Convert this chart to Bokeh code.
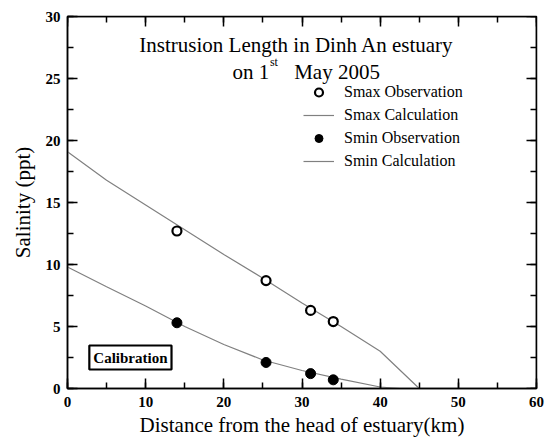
import math
from bokeh.plotting import figure
from bokeh.models import (LinearAxis, SingleIntervalTicker, Label, Legend, LegendItem,
                          Range1d, CustomLabelingPolicy)
from bokeh.embed import file_html
from bokeh.resources import INLINE

# ---- data ----
smax_obs_x = [14.0, 25.4, 31.1, 34.0]
smax_obs_y = [12.7, 8.7, 6.3, 5.4]
smin_obs_x = [14.0, 25.4, 31.1, 34.0]
smin_obs_y = [5.3, 2.1, 1.2, 0.7]
smax_calc_x = [0, 5, 10, 15, 20, 25, 30, 35, 40, 45]
smax_calc_y = [19.1, 16.8, 14.8, 12.8, 10.8, 8.9, 6.9, 5.0, 3.0, 0.0]
smin_calc_x = [0, 5, 10, 15, 20, 25, 30, 35, 40, 42.5]
smin_calc_y = [9.8, 8.2, 6.65, 5.0, 3.55, 2.3, 1.45, 0.75, 0.12, 0.0]

title_line1 = "Instrusion Length in Dinh An estuary"
title_line2a = "on 1"
title_sup = "st"
title_line2b = "May 2005"
x_label = "Distance from the head of estuary(km)"
y_label = "Salinity (ppt)"
box_label = "Calibration"
legend_labels = ["Smax Observation", "Smax Calculation", "Smin Observation", "Smin Calculation"]

SERIF = "Liberation Serif"

p = figure(width=548, height=439, output_backend="svg", toolbar_location=None,
           x_range=Range1d(0, 60), y_range=Range1d(0, 30),
           min_border_left=67, min_border_right=12, min_border_top=16, min_border_bottom=51,
           x_axis_location=None, y_axis_location=None)
p.grid.visible = False
p.outline_line_color = "black"
p.outline_line_width = 1.5
p.background_fill_color = "white"
p.border_fill_color = "white"

no_labels = CustomLabelingPolicy(code="""
    for (let i = 0; i < indices.size; i++) { indices.unset(i) }
    return indices
""")


def make_axis(interval, show_labels, label=None):
    ax = LinearAxis(ticker=SingleIntervalTicker(interval=interval, num_minor_ticks=2))
    ax.major_tick_in = 10
    ax.major_tick_out = 0
    ax.minor_tick_in = 6
    ax.minor_tick_out = 0
    ax.major_tick_line_color = "black"
    ax.major_tick_line_width = 1.5
    ax.minor_tick_line_color = "black"
    ax.minor_tick_line_width = 1.5
    ax.axis_line_color = "black"
    ax.axis_line_width = 1.5
    ax.major_label_text_font = SERIF
    ax.major_label_text_font_style = "bold"
    ax.major_label_text_font_size = "15px"
    ax.major_label_text_color = "black"
    if not show_labels:
        ax.major_label_policy = no_labels
        ax.major_label_standoff = 0
    if label:
        ax.axis_label = label
        ax.axis_label_text_font = SERIF
        ax.axis_label_text_font_style = "normal"
        ax.axis_label_text_font_size = "21px"
        ax.axis_label_text_color = "black"
    return ax


xb = make_axis(10, True, x_label)
xb.major_label_standoff = 8
xb.axis_label_standoff = 3
p.add_layout(xb, "below")
xt = make_axis(10, False)
xt.fixed_location = 30
p.add_layout(xt, "above")
yl = make_axis(5, True, y_label)
yl.major_label_standoff = 7
yl.axis_label_standoff = 8
p.add_layout(yl, "left")
yr = make_axis(5, False)
yr.fixed_location = 60
p.add_layout(yr, "right")

# ---- data marks ----
r_smax_calc = p.line(smax_calc_x, smax_calc_y, line_color="#808080", line_width=1.2)
r_smin_calc = p.line(smin_calc_x, smin_calc_y, line_color="#808080", line_width=1.2)
r_smax_obs = p.scatter(smax_obs_x, smax_obs_y, marker="circle", size=9,
                       fill_color="white", line_color="black", line_width=2.2)
r_smin_obs = p.scatter(smin_obs_x, smin_obs_y, marker="circle", size=10,
                       fill_color="black", line_color="black", line_width=1)

legend = Legend(items=[
    LegendItem(label=legend_labels[0], renderers=[r_smax_obs]),
    LegendItem(label=legend_labels[1], renderers=[r_smax_calc]),
    LegendItem(label=legend_labels[2], renderers=[r_smin_obs]),
    LegendItem(label=legend_labels[3], renderers=[r_smin_calc]),
], location=(236, 217))
legend.border_line_color = None
legend.background_fill_alpha = 0
legend.padding = 0
legend.margin = 0
legend.spacing = 3
legend.glyph_width = 31
legend.glyph_height = 20
legend.label_height = 20
legend.label_standoff = 10
legend.label_text_font = SERIF
legend.label_text_font_size = "16px"
legend.label_text_color = "black"
p.add_layout(legend)

# ---- titles / annotations ----
p.add_layout(Label(x=29.3, y=27.7, text=title_line1, text_font=SERIF, text_font_size="21px",
                   text_align="center", text_baseline="alphabetic", text_color="black"))
p.add_layout(Label(x=21.1, y=25.5, text=title_line2a, text_font=SERIF, text_font_size="21px",
                   text_align="left", text_baseline="alphabetic", text_color="black"))
p.add_layout(Label(x=25.9, y=26.3, text=title_sup, text_font=SERIF, text_font_size="12px",
                   text_align="left", text_baseline="alphabetic", text_color="black"))
p.add_layout(Label(x=29.0, y=25.5, text=title_line2b, text_font=SERIF, text_font_size="21px",
                   text_align="left", text_baseline="alphabetic", text_color="black"))

p.add_layout(Label(x=8.05, y=2.5, text=box_label, text_font=SERIF, text_font_size="15px",
                   text_font_style="bold", text_align="center", text_baseline="middle",
                   text_color="black", border_line_color="black", border_line_width=2.2,
                   background_fill_color="white", padding=4))

open("out.html", "w").write(file_html(p, INLINE))
